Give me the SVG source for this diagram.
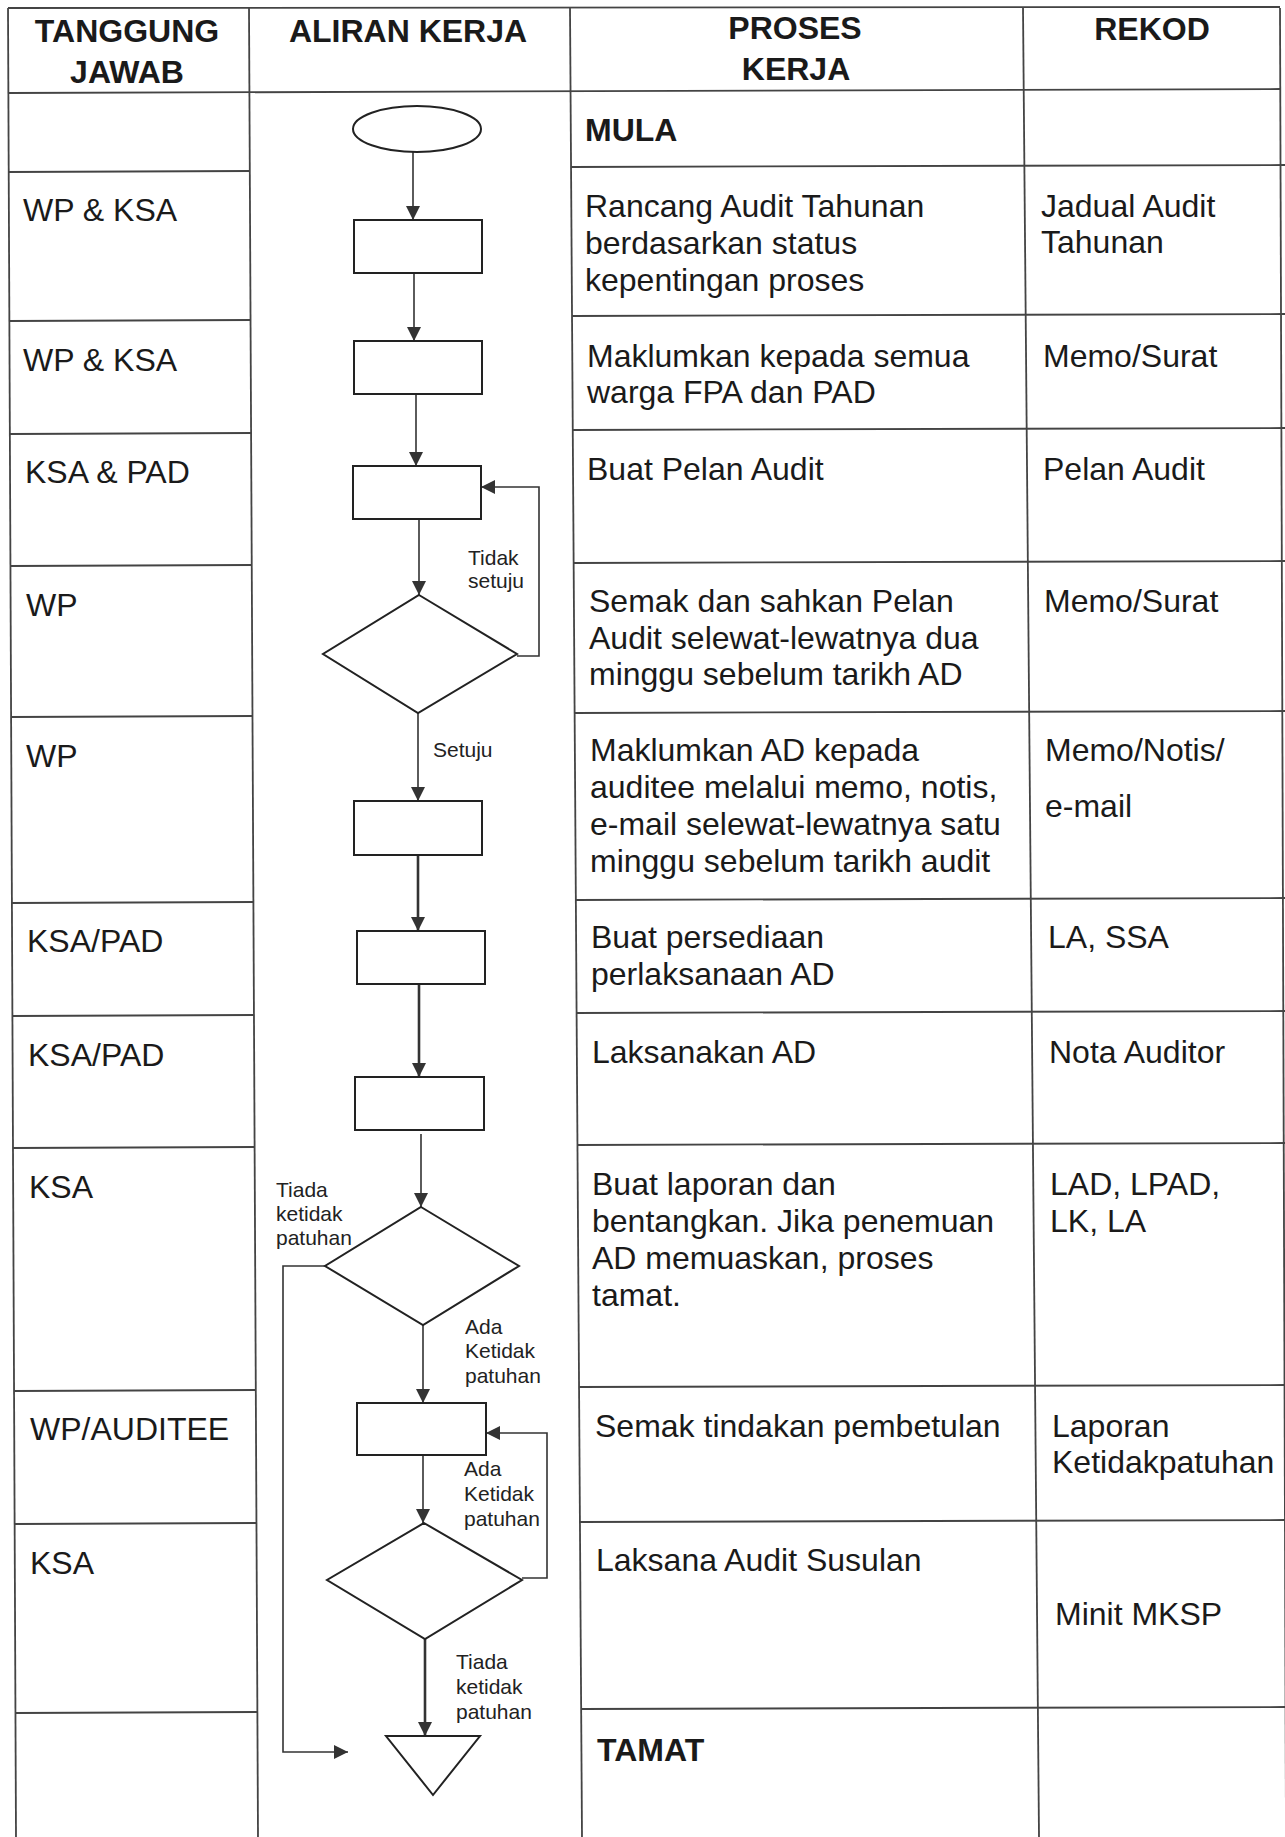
<svg xmlns="http://www.w3.org/2000/svg" width="1285" height="1837" viewBox="0 0 1285 1837">
<style>
.grid{stroke:#444;stroke-width:1.8;fill:none}
.shape{fill:#fff;stroke:#222;stroke-width:2}
.conn{stroke:#333;stroke-width:1.6;fill:none}
.thick{stroke-width:2.6}
.t{font-family:"Liberation Sans",Arial,sans-serif;font-size:32px;fill:#1a1a1a}
.h{font-weight:bold;text-anchor:middle}
.b{font-weight:bold}
.lbl{font-family:"Liberation Sans",Arial,sans-serif;font-size:21px;fill:#222}
</style>
<defs>
<marker id="arr" markerUnits="userSpaceOnUse" markerWidth="14" markerHeight="14" viewBox="0 0 14 14" refX="14" refY="7" orient="auto">
<path d="M0,0 L14,7 L0,14 z" fill="#333"/>
</marker>
</defs>
<rect width="1285" height="1837" fill="#fff"/>
<g id="table" class="grid">
<line x1="8" y1="8" x2="16" y2="1837"/>
<line x1="249" y1="8" x2="258" y2="1837"/>
<line x1="570" y1="8" x2="582" y2="1837"/>
<line x1="1023" y1="8" x2="1039" y2="1837"/>
<line x1="1280" y1="8" x2="1286" y2="1837"/>
<line x1="8" y1="8" x2="1280" y2="7"/>
<line x1="8" y1="93" x2="1280" y2="89"/>
<line x1="8.7" y1="172" x2="249.8" y2="171"/>
<line x1="9.4" y1="321" x2="250.6" y2="320"/>
<line x1="9.9" y1="434" x2="251.1" y2="433"/>
<line x1="10.5" y1="566" x2="251.8" y2="565"/>
<line x1="11.1" y1="717" x2="252.5" y2="716"/>
<line x1="11.9" y1="903" x2="253.4" y2="902"/>
<line x1="12.4" y1="1016" x2="254" y2="1015"/>
<line x1="13" y1="1148" x2="254.6" y2="1147"/>
<line x1="14" y1="1391" x2="255.8" y2="1390"/>
<line x1="14.6" y1="1524" x2="256.5" y2="1523"/>
<line x1="15.5" y1="1713" x2="257.4" y2="1712"/>
<line x1="571" y1="167" x2="1285" y2="165"/>
<line x1="572" y1="316" x2="1285" y2="314"/>
<line x1="572.8" y1="430" x2="1285" y2="428"/>
<line x1="573.7" y1="563" x2="1285" y2="561"/>
<line x1="574.7" y1="713" x2="1285" y2="711"/>
<line x1="575.9" y1="900" x2="1285" y2="898"/>
<line x1="576.6" y1="1013" x2="1285" y2="1011"/>
<line x1="577.5" y1="1145" x2="1285" y2="1143"/>
<line x1="579" y1="1387" x2="1285" y2="1385"/>
<line x1="580" y1="1522" x2="1285" y2="1520"/>
<line x1="581.2" y1="1709" x2="1285" y2="1707"/>
</g>
<g id="headers" class="t h">
<text x="127" y="42">TANGGUNG</text>
<text x="127" y="83">JAWAB</text>
<text x="408" y="42">ALIRAN KERJA</text>
<text x="795" y="39">PROSES</text>
<text x="796" y="80">KERJA</text>
<text x="1152" y="40">REKOD</text>
</g>
<g id="col-tanggungjawab" class="t">
<text x="23" y="221">WP &amp; KSA</text>
<text x="23" y="371">WP &amp; KSA</text>
<text x="25" y="483">KSA &amp; PAD</text>
<text x="26" y="616">WP</text>
<text x="26" y="767">WP</text>
<text x="27" y="952">KSA/PAD</text>
<text x="28" y="1066">KSA/PAD</text>
<text x="29" y="1198">KSA</text>
<text x="30" y="1440">WP/AUDITEE</text>
<text x="30" y="1574">KSA</text>
</g>
<g id="col-proses" class="t">
<text class="b" x="585" y="141">MULA</text>
<text x="585" y="217">Rancang Audit Tahunan</text>
<text x="585" y="254">berdasarkan status</text>
<text x="585" y="291">kepentingan proses</text>
<text x="587" y="367">Maklumkan kepada semua</text>
<text x="587" y="403">warga FPA dan PAD</text>
<text x="587" y="480">Buat Pelan Audit</text>
<text x="589" y="612">Semak dan sahkan Pelan</text>
<text x="589" y="649">Audit selewat-lewatnya dua</text>
<text x="589" y="685">minggu sebelum tarikh AD</text>
<text x="590" y="761">Maklumkan AD kepada</text>
<text x="590" y="798">auditee melalui memo, notis,</text>
<text x="590" y="835">e-mail selewat-lewatnya satu</text>
<text x="590" y="872">minggu sebelum tarikh audit</text>
<text x="591" y="948">Buat persediaan</text>
<text x="591" y="985">perlaksanaan AD</text>
<text x="592" y="1063">Laksanakan AD</text>
<text x="592" y="1195">Buat laporan dan</text>
<text x="592" y="1232">bentangkan. Jika penemuan</text>
<text x="592" y="1269">AD memuaskan, proses</text>
<text x="592" y="1306">tamat.</text>
<text x="595" y="1437">Semak tindakan pembetulan</text>
<text x="596" y="1571">Laksana Audit Susulan</text>
<text class="b" x="597" y="1761">TAMAT</text>
</g>
<g id="col-rekod" class="t">
<text x="1041" y="217">Jadual Audit</text>
<text x="1041" y="253">Tahunan</text>
<text x="1043" y="367">Memo/Surat</text>
<text x="1043" y="480">Pelan Audit</text>
<text x="1044" y="612">Memo/Surat</text>
<text x="1045" y="761">Memo/Notis/</text>
<text x="1045" y="817">e-mail</text>
<text x="1048" y="948">LA, SSA</text>
<text x="1049" y="1063">Nota Auditor</text>
<text x="1050" y="1195">LAD, LPAD,</text>
<text x="1050" y="1232">LK, LA</text>
<text x="1052" y="1437">Laporan</text>
<text x="1052" y="1473">Ketidakpatuhan</text>
<text x="1055" y="1625">Minit MKSP</text>
</g>
<g id="connectors">
<path class="conn" d="M413,152 V220" marker-end="url(#arr)"/>
<path class="conn" d="M414,273 V341" marker-end="url(#arr)"/>
<path class="conn" d="M416,394 V466" marker-end="url(#arr)"/>
<path class="conn" d="M419,519 V595" marker-end="url(#arr)"/>
<path class="conn" d="M517,656 H539 V487 H481" marker-end="url(#arr)"/>
<path class="conn" d="M418,713 V801" marker-end="url(#arr)"/>
<path class="conn thick" d="M418,855 V931" marker-end="url(#arr)"/>
<path class="conn thick" d="M419,984 V1077" marker-end="url(#arr)"/>
<path class="conn" d="M421,1134 V1207" marker-end="url(#arr)"/>
<path class="conn" d="M325,1266 H283 V1752 H348" marker-end="url(#arr)"/>
<path class="conn" d="M423,1325 V1403" marker-end="url(#arr)"/>
<path class="conn" d="M423,1455 V1523" marker-end="url(#arr)"/>
<path class="conn" d="M522,1578 H547 V1433 H486" marker-end="url(#arr)"/>
<path class="conn thick" d="M425,1639 V1736" marker-end="url(#arr)"/>
<g class="lbl">
<text x="468" y="565">Tidak</text>
<text x="468" y="588">setuju</text>
<text x="433" y="757">Setuju</text>
<text x="276" y="1197">Tiada</text>
<text x="276" y="1221">ketidak</text>
<text x="276" y="1245">patuhan</text>
<text x="465" y="1334">Ada</text>
<text x="465" y="1358">Ketidak</text>
<text x="465" y="1383">patuhan</text>
<text x="464" y="1476">Ada</text>
<text x="464" y="1501">Ketidak</text>
<text x="464" y="1526">patuhan</text>
<text x="456" y="1669">Tiada</text>
<text x="456" y="1694">ketidak</text>
<text x="456" y="1719">patuhan</text>
</g>
</g>
<g id="node-start"><ellipse class="shape" cx="417" cy="129" rx="64" ry="23"/></g>
<g id="node-p1"><rect class="shape" x="354" y="220" width="128" height="53"/></g>
<g id="node-p2"><rect class="shape" x="354" y="341" width="128" height="53"/></g>
<g id="node-p3"><rect class="shape" x="353" y="466" width="128" height="53"/></g>
<g id="node-d1"><polygon class="shape" points="419,595 517,654 418,713 323,654"/></g>
<g id="node-p4"><rect class="shape" x="354" y="801" width="128" height="54"/></g>
<g id="node-p5"><rect class="shape" x="357" y="931" width="128" height="53"/></g>
<g id="node-p6"><rect class="shape" x="355" y="1077" width="129" height="53"/></g>
<g id="node-d2"><polygon class="shape" points="421,1207 519,1266 423,1325 325,1266"/></g>
<g id="node-p7"><rect class="shape" x="357" y="1403" width="129" height="52"/></g>
<g id="node-d3"><polygon class="shape" points="424,1523 522,1580 425,1639 327,1580"/></g>
<g id="node-end"><polygon class="shape" points="386,1736 480,1736 433,1795"/></g>
</svg>
